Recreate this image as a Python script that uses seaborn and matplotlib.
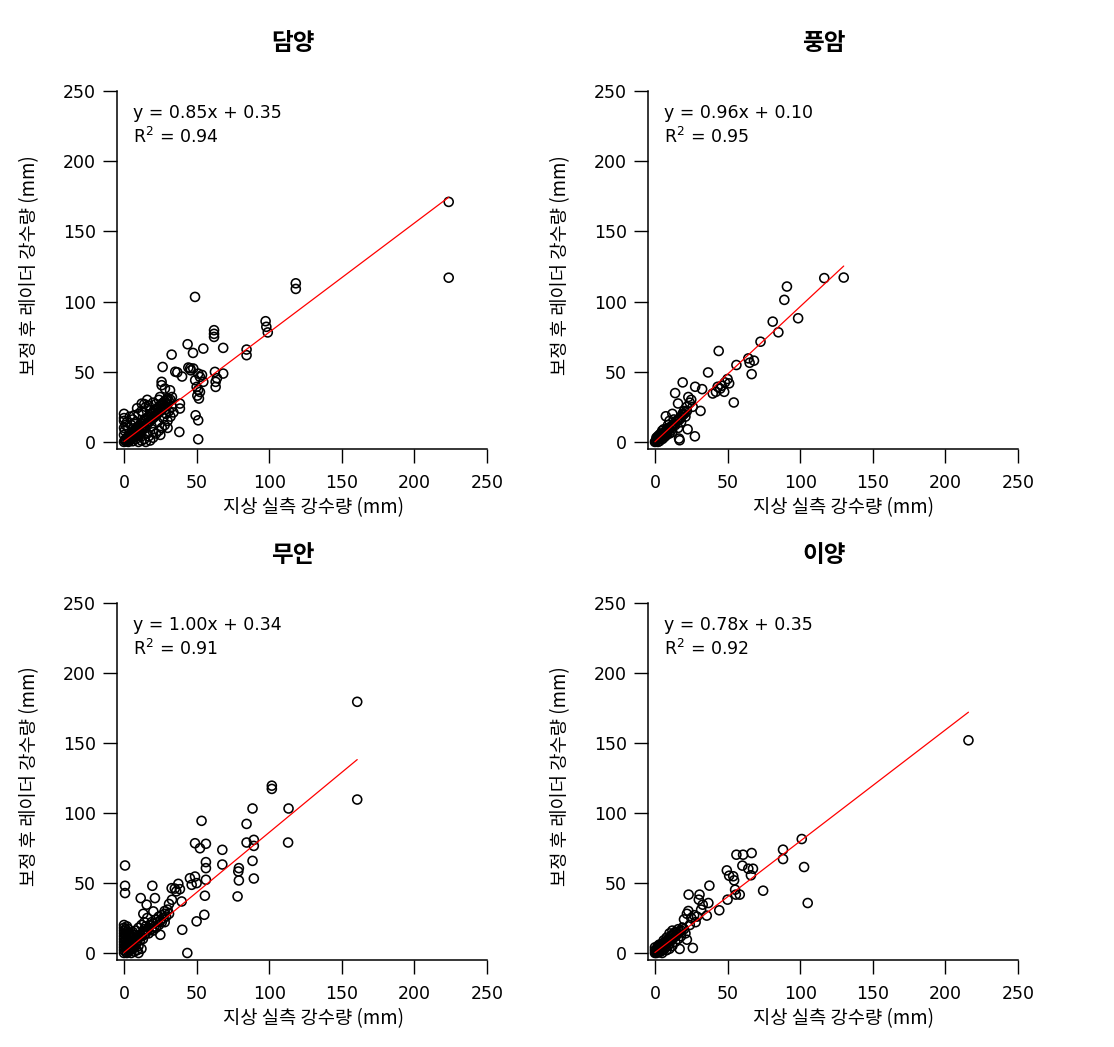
import matplotlib
matplotlib.use("Agg")
import matplotlib.pyplot as plt
import seaborn as sns
import numpy as np
import pandas as pd

# ---------------- data ----------------
stations = ["담양", "풍암", "무안", "이양"]
eq_labels = ["y = 0.85x + 0.35", "y = 0.96x + 0.10", "y = 1.00x + 0.34", "y = 0.78x + 0.35"]
r2_labels = ["0.94", "0.95", "0.91", "0.92"]
# drawn fit lines (as they appear in the picture)
fit_slope = [0.778, 0.963, 0.858, 0.795]
fit_intercept = [0.35, 0.10, 0.34, 0.35]

damyang_x = [223.6, 223.6, 118.3, 118.3, 48.9, 97.5, 98, 99, 84.4, 84.4, 62, 62, 62, 43.8, 47.5, 54.6, 68.3,
             32.8, 26.6, 36.7, 44.3, 47.7, 51.1, 52.3, 54.6, 50, 52.3, 51.6, 62.6, 63.1, 63.1, 68.3, 38.5,
             38.5, 38.1, 49.3, 51.1, 51.1, 25.9, 25.9, 28.2, 31.7, 24.8, 29.4, 12.2, 46, 49, 51, 50.5, 45.6,
             53.7, 40, 35.3, 64,
             0, 0.5, 1, 1.5, 2, 2.5, 3, 3, 3.5, 4, 4, 4.5, 5, 5, 5.5, 6, 6, 6.5, 7, 7, 7.5, 8, 8, 8.5, 9, 9,
             9.5, 10, 10, 10.5, 11, 11, 12, 12, 12.5, 13, 13, 14, 14, 15, 15, 16, 16, 17, 17, 18, 18, 19, 19,
             20, 20, 21, 21, 22, 22, 23, 23, 24, 24, 25, 25, 26, 26, 27, 27, 28, 28, 29, 30, 30, 31, 32, 33,
             0, 0, 0, 1, 0, 0.5, 0, 2, 3, 4, 5, 6, 8, 10, 12, 7, 9, 13, 15, 17, 18, 20, 22, 24, 14, 16,
             10, 12, 14, 15, 17, 18, 20, 22, 24, 25, 26, 28, 30, 32, 20, 16, 12, 19, 23, 27, 29, 31, 33, 34, 30]
damyang_y = [171, 117, 113, 109, 103.3, 86, 82, 78, 65.8, 61.8, 79.6, 77, 74.8, 69.6, 63.4, 66.5, 67,
             62.2, 53.4, 49.6, 53, 52.3, 48.7, 46.3, 42.8, 39.2, 35.6, 30.9, 49.9, 42.8, 39.2, 48.7, 27.3,
             23.8, 7.1, 19, 15.4, 1.9, 42.8, 40.4, 38, 36.8, 32, 29.7, 27.3, 51, 44, 37, 33, 52.5,
             47.7, 46.6, 50, 45.4,
             0, 1, 2, 0.5, 3, 1.5, 4, 0, 2.5, 5, 1, 3, 6, 2, 4, 7, 0.5, 5, 8, 3, 6, 9, 2, 7, 10, 4,
             8, 11, 5, 9, 12, 6, 13, 8, 10, 14, 9, 15, 11, 16, 12, 17, 13, 18, 14, 19, 15, 20, 16,
             21, 17, 22, 18, 23, 19, 24, 20, 25, 21, 26, 22, 27, 23, 28, 24, 29, 25, 30, 31, 27, 29, 30, 32,
             20, 17, 15, 12, 10, 8, 5, 14, 10, 18, 12, 16, 14, 20, 22, 19, 24, 21, 25, 26, 23, 28, 27, 30, 27, 30,
             0, 1, 2, 0, 4, 1, 3, 6, 8, 5, 10, 12, 15, 18, 7, 6, 4, 11, 14, 17, 20, 22, 25, 21, 10]

pungam_x = [130, 116.6, 90.9, 89.1, 98.6, 81.1, 85, 72.7, 43.9, 56.1, 64.3, 65.2, 68.2, 66.6, 36.6, 19.1,
            50, 51.1, 48.2, 47.7, 54.3, 42, 43.2, 39.8, 13.9, 15.9, 27.7, 32.5, 31.4, 27.5, 17, 16.6, 22.5,
            7.5, 45, 46, 25, 24, 23, 26, 20, 22, 21, 19, 18, 12, 10, 14, 16, 11,
            0, 0.5, 1, 1.5, 2, 2.5, 3, 3.5, 4, 4.5, 5, 5.5, 6, 6.5, 7, 7.5, 8, 8.5, 9, 9.5, 10, 11, 12, 13,
            14, 15, 16, 17, 18, 19, 20, 21, 22, 1, 2, 3, 4, 5, 6, 7, 8, 9, 10, 6, 3, 2, 5, 12, 13]
pungam_y = [117.1, 116.7, 110.7, 101.2, 88.1, 85.7, 78.1, 71.4, 64.8, 54.8, 59.5, 56.4, 57.9, 48.3, 49.5, 42.4,
            44.8, 41.7, 42.4, 35.7, 28.1, 35.7, 39.3, 34.5, 34.8, 27.4, 39.3, 37.6, 22.1, 4, 1.2, 2.4, 9,
            18.3, 38, 40, 30, 28, 32, 25, 22, 25, 18, 20, 14, 20, 15, 12, 10, 8,
            0, 0.5, 1, 2, 1.5, 3, 2, 4, 3, 5, 4, 6, 5, 7, 6, 8, 7, 9, 8, 10, 9, 11, 11, 13,
            13, 15, 16, 16, 18, 19, 20, 21, 22, 3, 4, 5, 6, 2, 3, 4, 5, 12, 6, 9, 0.5, 0, 8, 7, 16]

muan_x = [160.6, 160.6, 101.8, 101.8, 88.5, 113.3, 84.4, 53.4, 113, 84.4, 89.4, 89.4, 88.5, 89.4, 79.1,
          78.7, 79.1, 78.2, 67.7, 67.7, 48.9, 52.3, 56.4, 56.4, 56.4, 56.4, 55.7, 55.3, 50, 45.4, 48.9,
          50, 46.6, 43.6, 40.1, 32.8, 37.4, 38.5, 39.7, 19.5, 11.5, 15.6, 21.3, 13.3, 20.2, 0.7, 0.7, 0.7,
          35, 36, 33, 31, 28,
          0, 0, 0, 0, 0, 0, 0, 0, 0, 0, 0, 1, 1, 1, 1, 1, 2, 2, 2, 2, 2, 2, 3, 3, 3, 3, 3, 4, 4, 4, 4,
          5, 5, 5, 5, 6, 6, 6, 7, 7, 7, 7, 8, 8, 9, 9, 9, 10, 10, 10, 11, 11, 12, 12, 13, 13, 14, 14,
          15, 15, 16, 17, 17, 18, 19, 19, 20, 21, 22, 23, 24, 25, 26, 27, 28, 29, 30, 31, 20, 22, 24,
          26, 28, 25, 12, 8, 10, 6, 14, 16]
muan_y = [179.4, 109.6, 119.5, 117.2, 103.2, 103.2, 92.2, 94.4, 78.9, 78.9, 80.8, 76.5, 65.8, 53.2, 60.6,
          58.2, 51.8, 40.4, 73.7, 63.2, 78.4, 74.8, 78, 64.9, 60.6, 52.3, 40.9, 27.3, 22.6, 53.4, 54.6,
          49.9, 48.7, 0, 16.6, 46.3, 49.4, 45.6, 36.8, 48, 39.2, 34.5, 39.2, 28, 29.7, 62.5, 48, 42.8,
          46, 44, 38, 35, 30,
          0, 2, 4, 6, 8, 10, 12, 14, 16, 18, 20, 1, 5, 9, 13, 17, 0, 3, 7, 11, 15, 19, 1, 5, 9, 13, 17,
          2, 6, 10, 14, 0, 4, 8, 12, 3, 7, 11, 1, 5, 9, 13, 6, 10, 2, 8, 12, 0, 5, 11, 9, 13, 3, 12,
          10, 15, 13, 17, 14, 19, 16, 18, 14, 20, 17, 22, 21, 19, 24, 22, 26, 23, 27, 25, 28, 26, 31, 28,
          16, 18, 20, 22, 22, 13, 20, 16, 18, 15, 22, 25]

iyang_x = [215.9, 101.1, 102.7, 105.2, 88.2, 88.2, 74.5, 56.1, 60.7, 66.6, 60.2, 64.3, 67.5, 66.1, 49.5,
           51.1, 53.9, 54.5, 55.2, 55.7, 58.4, 50, 37.5, 23.2, 30.7, 30.2, 36.8, 32.9, 31.8, 35.7, 44.3,
           17, 26.1, 22, 23, 22, 25, 27, 29, 28, 24, 20, 19, 21, 18, 15,
           0, 0.5, 1, 1, 1.5, 2, 2, 2.5, 3, 3, 3.5, 4, 4, 4.5, 5, 5, 5.5, 6, 6, 7, 7, 7.5, 8, 8.5, 9, 9,
           10, 10, 11, 11, 12, 12, 13, 13, 14, 14, 15, 16, 16, 17, 18, 19, 20, 2, 0, 0, 3, 6, 8, 10, 12,
           5, 8, 10, 12, 14, 16]
iyang_y = [151.9, 81.4, 61.4, 35.7, 73.8, 67.1, 44.5, 70.2, 70.2, 71.4, 62.4, 60.2, 60.2, 55.5, 59,
           55.2, 54.8, 51.9, 45.2, 41.7, 41.7, 38.1, 48.1, 41.7, 41.7, 38.1, 35.7, 34.5, 31, 26.7, 30.5,
           2.9, 3.6, 9.5, 30, 28, 25, 27, 26, 22, 20, 24, 18, 14, 12, 15,
           0, 1, 0, 2, 3, 1, 3.5, 0.5, 2, 4, 5, 1, 3, 6, 2, 4.5, 7, 3, 5, 6, 8, 4, 6.5, 9, 5, 8,
           10, 7, 9, 12, 10, 13, 11, 14, 12, 15, 13, 14, 17, 15, 16, 18, 17, 5, 4, 2, 6, 9, 11, 14, 16,
           0, 2, 3, 5, 8, 10]

xs = [damyang_x, pungam_x, muan_x, iyang_x]
ys = [damyang_y, pungam_y, muan_y, iyang_y]
ticks = [0, 50, 100, 150, 200, 250]

# ---------------- style ----------------
sns.set_theme(style="white")
plt.rcParams['font.family'] = ['DejaVu Sans', 'Noto Sans CJK KR']
plt.rcParams['axes.unicode_minus'] = False
plt.rcParams['text.color'] = 'black'
plt.rcParams['axes.labelcolor'] = 'black'

fig = plt.figure(figsize=(11.14, 10.47), dpi=100)
positions = [[0.1048, 0.5712, 0.3324, 0.3419], [0.5814, 0.5712, 0.3324, 0.3419],
             [0.1048, 0.0831, 0.3324, 0.3410], [0.5814, 0.0831, 0.3324, 0.3410]]
kr = ['Noto Sans CJK KR', 'DejaVu Sans']

for i in range(4):
    ax = fig.add_axes(positions[i])
    df = pd.DataFrame({"obs": xs[i], "radar": ys[i]})
    sns.scatterplot(data=df, x="obs", y="radar", ax=ax, marker="o", s=42,
                    facecolor="none", edgecolor="black", linewidth=1.15, zorder=2)
    xmax = max(xs[i])
    lx = [0, xmax]
    ly = [fit_intercept[i], fit_slope[i] * xmax + fit_intercept[i]]
    sns.lineplot(x=lx, y=ly, ax=ax, color="red", linewidth=0.9, zorder=3)

    ax.set_xlim(-5, 250)
    ax.set_ylim(-5, 250)
    ax.set_xticks(ticks)
    ax.set_yticks(ticks)
    for s in ["top", "right"]:
        ax.spines[s].set_visible(False)
    for s in ["left", "bottom"]:
        ax.spines[s].set_color("black")
        ax.spines[s].set_linewidth(1.1)
    ax.tick_params(axis="both", direction="out", length=10, width=1.0, colors="black",
                   labelsize=12.5, left=True, bottom=True)
    ax.tick_params(axis="x", pad=8)
    ax.tick_params(axis="y", pad=5)
    ax.grid(False)

    ax.set_xlabel("지상 실측 강수량 (mm)", fontsize=13.5, family=kr, color="black")
    ax.xaxis.set_label_coords(0.53, -0.165)
    ax.xaxis.label.set_va("center")
    ax.set_ylabel("보정 후 레이더 강수량 (mm)", fontsize=13.5, family=kr, color="black")
    ax.yaxis.set_label_coords(-0.235, 0.514)
    ax.yaxis.label.set_va("center")

    ax.text(0.476, 1.135, stations[i], transform=ax.transAxes, ha="center", va="center",
            fontsize=17, fontweight="bold", family=kr, color="black")
    ax.text(0.043, 0.939, eq_labels[i], transform=ax.transAxes, ha="left", va="center",
            fontsize=12.5, color="black")
    ax.text(0.043, 0.872, "R$^2$ = " + r2_labels[i], transform=ax.transAxes, ha="left",
            va="center", fontsize=12.5, color="black")

fig.savefig("out.png", dpi=100, facecolor="white")
